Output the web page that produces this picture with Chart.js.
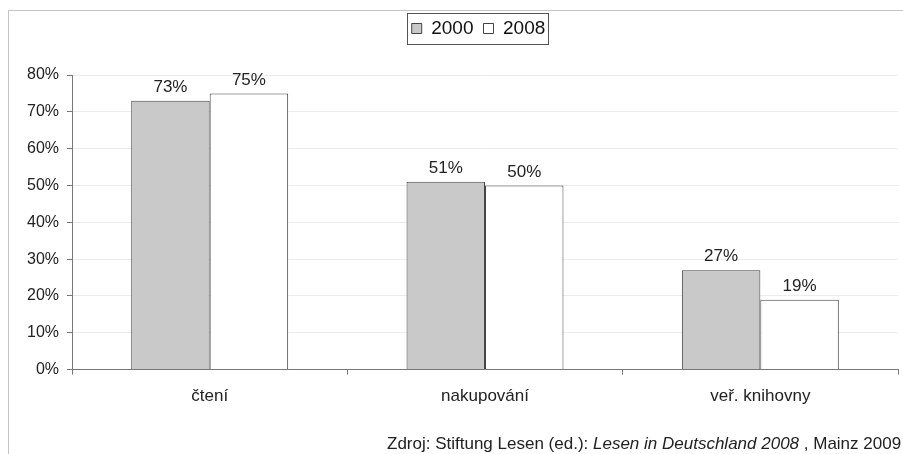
<!DOCTYPE html>
<html>
<head>
<meta charset="utf-8">
<script src="https://cdn.jsdelivr.net/npm/chart.js@4/dist/chart.umd.min.js"></script>
<style>
  html, body { margin: 0; padding: 0; background: #fff; }
  #wrap { position: relative; width: 903px; height: 454px; overflow: hidden; }
  #frame { position: absolute; left: 8px; top: 10px; width: 900px; height: 460px;
           border-top: 1px solid #c4c4c4; border-left: 1px solid #c4c4c4; }
  #source { position: absolute; left: 387px; top: 434px; white-space: nowrap;
            font: 17px "Liberation Sans", Arial, sans-serif; color: #222; }
  canvas { position: absolute; left: 0; top: 0; }
</style>
</head>
<body>
<div id="wrap">
  <div id="frame"></div>
  <canvas id="chart" width="903" height="454"></canvas>
  <div id="source">Zdroj: Stiftung Lesen (ed.): <i>Lesen in Deutschland 2008</i> , Mainz 2009</div>
</div>
<script>
  const categories = ["čtení", "nakupování", "veř. knihovny"];
  const years = ["2000", "2008"];
  const values2000 = [73, 51, 27];
  const values2008 = [75, 50, 19];
  const yTicks = [0, 10, 20, 30, 40, 50, 60, 70, 80];

  const FONT = '"Liberation Sans", Arial, sans-serif';

  // value labels above each bar
  const barLabels = {
    id: 'barLabels',
    afterDatasetsDraw(chart) {
      const ctx = chart.ctx;
      ctx.save();
      ctx.font = '17px ' + FONT;
      ctx.fillStyle = '#222';
      ctx.textAlign = 'center';
      ctx.textBaseline = 'bottom';
      chart.data.datasets.forEach((ds, i) => {
        chart.getDatasetMeta(i).data.forEach((bar, j) => {
          ctx.fillText(ds.data[j] + '%', bar.x, bar.y - 5);
        });
      });
      ctx.restore();
    }
  };

  // more room under the legend, legend a bit right of centre, framed
  const legendBox = {
    id: 'legendBox',
    beforeInit(chart) {
      const legend = chart.legend;
      const fit = legend.fit;
      legend.fit = function() {
        fit.call(this);
        this.height += 27;
      };
    },
    afterLayout(chart) {
      const l = chart.legend;
      l.left += 20;
      l.right += 20;
      l.legendHitBoxes.forEach(b => { b.left += 20; });
    },
    afterDraw(chart) {
      const boxes = chart.legend.legendHitBoxes;
      if (!boxes || !boxes.length) return;
      const left = Math.min(...boxes.map(b => b.left)) - 5;
      const right = Math.max(...boxes.map(b => b.left + b.width)) + 2;
      const top = Math.min(...boxes.map(b => b.top)) - 6;
      const bottom = Math.max(...boxes.map(b => b.top + b.height)) + 6;
      const ctx = chart.ctx;
      ctx.save();
      ctx.strokeStyle = '#555';
      ctx.lineWidth = 1;
      ctx.strokeRect(Math.round(left) + 0.5, Math.round(top) + 0.5, Math.round(right - left), Math.round(bottom - top));
      ctx.restore();
    }
  };

  new Chart(document.getElementById('chart'), {
    type: 'bar',
    data: {
      labels: categories,
      datasets: [{
        label: years[0],
        data: values2000,
        backgroundColor: '#c9c9c9',
        borderColor: '#444',
        borderWidth: 1
      }, {
        label: years[1],
        data: values2008,
        backgroundColor: '#ffffff',
        borderColor: '#444',
        borderWidth: 1
      }]
    },
    options: {
      responsive: false,
      animation: false,
      layout: { padding: { left: 19, right: 5, top: 9, bottom: 35 } },
      datasets: { bar: { categoryPercentage: 0.57, barPercentage: 1 } },
      plugins: {
        legend: {
          position: 'top',
          onClick: null,
          labels: {
            font: { family: FONT, size: 19 },
            color: '#111',
            boxWidth: 10,
            boxHeight: 10,
            padding: 10
          }
        },
        tooltip: { enabled: false }
      },
      scales: {
        x: {
          offset: true,
          grid: { display: true, drawOnChartArea: false, offset: true, tickLength: 5, color: '#777' },
          border: { color: '#777' },
          ticks: { font: { family: FONT, size: 17 }, color: '#222', padding: 12 }
        },
        y: {
          min: 0,
          max: 80,
          afterBuildTicks(scale) {
            scale.ticks = yTicks.map(v => ({ value: v }));
          },
          grid: { color: '#ececec', tickColor: '#777', tickLength: 5 },
          border: { color: '#777' },
          ticks: {
            font: { family: FONT, size: 16 },
            color: '#222',
            padding: 8,
            callback: v => v + '%'
          }
        }
      }
    },
    plugins: [barLabels, legendBox]
  });
</script>
</body>
</html>
